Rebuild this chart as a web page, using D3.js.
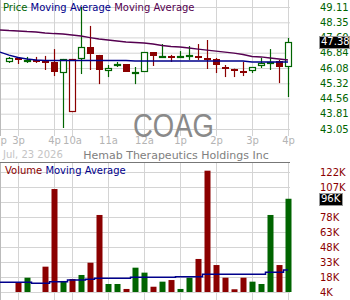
<!DOCTYPE html>
<html>
<head>
<meta charset="utf-8">
<script src="https://cdn.jsdelivr.net/npm/d3@7"></script>
<style>
body { margin: 0; background: #fff; }
text { font-family: "DejaVu Sans", Verdana, sans-serif; }
</style>
</head>
<body>
<script>
// 15 minute bars, index 1..32
var opens  = [46.38, 46.58, 46.45, 46.48, 46.44, 46.38, 45.83, 43.89, 46.53, 47.12, 46.73, 45.93, 46.27, 46.28, 45.88, 45.88,
              46.87, 46.66, 46.70, 46.66, 46.70, 46.70, 46.60, 46.53, 46.15, 46.05, 45.95, 45.93, 46.18, 46.33, 46.43, 46.13];
var highs  = [46.63, 46.58, 46.63, 46.63, 46.68, 47.02, 46.53, 46.53, 49.11, 48.17, 46.73, 46.23, 46.38, 46.28, 46.13, 46.87,
              46.87, 47.27, 46.73, 46.92, 47.17, 47.27, 47.47, 46.58, 46.23, 46.05, 46.38, 46.13, 46.58, 47.02, 46.48, 47.57];
var lows   = [46.33, 46.28, 46.33, 46.33, 45.98, 45.68, 43.10, 43.89, 45.78, 45.98, 45.28, 45.63, 46.13, 45.88, 45.28, 45.88,
              46.18, 46.66, 46.38, 46.63, 46.48, 46.48, 46.03, 45.83, 45.63, 45.63, 45.68, 45.83, 46.08, 45.98, 45.33, 44.64];
var closes = [46.58, 46.48, 46.49, 46.46, 46.42, 45.88, 46.53, 46.52, 47.12, 46.78, 45.98, 46.08, 46.29, 45.88, 45.90, 46.87,
              46.68, 46.68, 46.66, 46.68, 46.72, 46.68, 46.58, 46.23, 46.13, 46.03, 45.93, 46.13, 46.33, 46.38, 46.13, 47.38];
var volumes = [0, 13.2, 18.1, 0, 29.0, 105.6, 14.9, 16.8, 20.8, 32.9, 80.0, 11.9, 11.9, 7.0, 28.0, 23.1,
               9.2, 14.2, 15.8, 7.0, 18.1, 36.6, 123.7, 30.6, 18.1, 6.7, 18.1, 14.2, 11.9, 80.0, 30.6, 96.0];

// moving averages, index 0..32
var maFast = [46.87, 46.72, 46.60, 46.53, 46.48, 46.45, 46.45, 46.45, 46.45, 46.45, 46.45, 46.45, 46.45, 46.45, 46.45, 46.43, 46.43,
              46.43, 46.43, 46.43, 46.43, 46.43, 46.43, 46.43, 46.43, 46.43, 46.43, 46.43, 46.38, 46.38, 46.38, 46.38, 46.38];
var maSlow = [47.97, 47.94, 47.92, 47.89, 47.87, 47.82, 47.79, 47.77, 47.72, 47.67, 47.59, 47.52, 47.47, 47.42, 47.37, 47.35, 47.32,
              47.27, 47.20, 47.15, 47.12, 47.07, 47.02, 46.97, 46.92, 46.87, 46.82, 46.75, 46.65, 46.63, 46.58, 46.53, 46.48];
var volMa = [13.6, 13.6, 13.6, 13.6, 12.6, 12.6, 14.2, 14.2, 15.8, 15.8, 16.5, 17.5, 17.5, 17.5, 17.5, 18.5, 18.5,
             18.5, 18.5, 18.5, 19.1, 19.1, 19.1, 21.5, 21.5, 21.5, 21.5, 21.5, 21.5, 21.5, 23.4, 23.4, 25.7];

var timeIdx = [0, 2, 6, 8, 12, 16, 20, 24, 28, 32];
var timeLabels = ['2p', '3p', '4p', '10a', '11a', '12a', '1p', '2p', '3p', '4p'];
var priceTicks = [49.11, 48.35, 47.60, 46.84, 46.08, 45.32, 44.56, 43.81, 43.05];
var volTicks = [122.4, 107.6, 92.8, 78, 63.2, 48.4, 33.6, 18.8, 4];
var volLabels = ['122K', '107K', '92K', '78K', '63K', '48K', '33K', '18K', '4K'];

var w = 350;
var h = 300;
var green = '#006400';
var red = '#8b0000';

var svg = d3.select('body').append('svg')
  .attr('width', w)
  .attr('height', h);

var x = d3.scaleLinear().domain([0, 32]).range([0, 288]);
var y = d3.scaleLinear().domain([43.05, 49.11]).range([129, 7]);
var yv = d3.scaleLinear().domain([4, 122.4]).range([292, 172]);

function grid(g) {
  g.select('.domain').remove();
  g.selectAll('.tick line').attr('stroke', '#d4d4d4');
}

// grids
svg.append('g').call(d3.axisLeft(y).tickValues(priceTicks).tickSize(-290).tickFormat('')).call(grid);
svg.append('g').call(d3.axisTop(x).tickValues(timeIdx).tickSize(-136).tickFormat('')).call(grid);
svg.append('g').call(d3.axisLeft(yv).tickValues(volTicks).tickSize(-290).tickFormat('')).call(grid);
svg.append('g').attr('transform', 'translate(0,162)')
  .call(d3.axisTop(x).tickValues(timeIdx).tickSize(-138).tickFormat('')).call(grid);

svg.append('line').attr('x1', 0.5).attr('x2', 0.5).attr('y1', 0).attr('y2', 136).attr('stroke', '#bbb');
svg.append('line').attr('x1', 0.5).attr('x2', 0.5).attr('y1', 162).attr('y2', 300).attr('stroke', '#bbb');
svg.append('line').attr('x1', 0).attr('x2', 290).attr('y1', 162.5).attr('y2', 162.5).attr('stroke', '#777');

// time labels
var tx = svg.append('g').attr('transform', 'translate(0,136)')
  .call(d3.axisBottom(x).tickValues(timeIdx).tickSize(0).tickPadding(1)
    .tickFormat(function(d, i) { return timeLabels[i]; }));
tx.select('.domain').remove();
tx.selectAll('text').attr('fill', '#b4b4b4').style('font-size', '10px').style('font-family', '"DejaVu Sans", sans-serif');

svg.append('text').attr('x', 3).attr('y', 158).attr('fill', '#c4c4c4')
  .style('font-size', '10px').text('Jul, 23 2026');
svg.append('text').attr('x', 176).attr('y', 159).attr('text-anchor', 'middle').attr('fill', '#808080')
  .style('font-size', '11px').text('Hemab Therapeutics Holdings Inc');

// watermark
svg.append('text').attr('x', 133).attr('y', 137).attr('fill', '#8a8a8a')
  .attr('textLength', 81).attr('lengthAdjust', 'spacingAndGlyphs')
  .style('font-family', '"Liberation Sans", Arial, sans-serif').style('font-size', '33px').text('COAG');

function col(i) {
  return i == 0 || closes[i] >= closes[i - 1] ? green : red;
}

// candles
var candles = svg.append('g');
closes.forEach(function(c, i) {
  var cx = Math.round(x(i + 1));
  var o = opens[i];
  var top = Math.round(y(Math.max(o, c)));
  var bot = Math.round(y(Math.min(o, c)));
  candles.append('line')
    .attr('x1', cx + 0.5).attr('x2', cx + 0.5)
    .attr('y1', y(highs[i])).attr('y2', y(lows[i]))
    .attr('stroke', col(i)).attr('stroke-width', 1.2);
  if (c > o) {
    candles.append('rect')
      .attr('x', cx - 2.5).attr('y', top + 0.5)
      .attr('width', 6).attr('height', Math.max(bot - top - 1, 1))
      .attr('fill', '#fff').attr('stroke', col(i)).attr('stroke-width', 1.2);
  } else {
    candles.append('rect')
      .attr('x', cx - 3).attr('y', top)
      .attr('width', 7).attr('height', Math.max(bot - top, 2))
      .attr('fill', col(i));
  }
});

var line = d3.line().x(function(d, i) { return x(i); }).y(function(d) { return y(d); });
svg.append('path').attr('d', line(maSlow)).attr('fill', 'none').attr('stroke', '#550050').attr('stroke-width', 1.4);
svg.append('path').attr('d', line(maFast)).attr('fill', 'none').attr('stroke', '#00008b').attr('stroke-width', 1.4);

// volume bars
svg.append('g').selectAll('rect').data(volumes).join('rect')
  .attr('x', function(d, i) { return Math.round(x(i + 1)) - 2.5; })
  .attr('y', function(d) { return yv(Math.max(d, 4)); })
  .attr('width', 6)
  .attr('height', function(d) { return 292 - yv(Math.max(d, 4)); })
  .attr('fill', function(d, i) { return col(i); });

var vline = d3.line().curve(d3.curveStep).x(function(d, i) { return x(i); }).y(function(d) { return yv(d); });
svg.append('path').attr('d', vline(volMa)).attr('fill', 'none').attr('stroke', '#00008b').attr('stroke-width', 1.5);

// right axes
var py = svg.append('g').attr('transform', 'translate(320,0)')
  .call(d3.axisRight(y).tickValues(priceTicks).tickSize(0).tickPadding(0).tickFormat(d3.format('.2f')));
py.select('.domain').remove();
py.selectAll('text').attr('fill', green).style('font-size', '10px').style('font-family', '"DejaVu Sans", sans-serif');

var vy = svg.append('g').attr('transform', 'translate(320,0)')
  .call(d3.axisRight(yv).tickValues(volTicks).tickSize(0).tickPadding(0)
    .tickFormat(function(d, i) { return volLabels[i]; }));
vy.select('.domain').remove();
vy.selectAll('text').attr('fill', red).style('font-size', '10px').style('font-family', '"DejaVu Sans", sans-serif');

// last value boxes
var lastP = closes[closes.length - 1];
svg.append('rect').attr('x', 319.5).attr('y', Math.round(y(lastP)) - 5.5).attr('width', 30).attr('height', 12)
  .attr('fill', '#000').attr('stroke', '#999');
svg.append('text').attr('x', 321).attr('y', y(lastP)).attr('dy', '0.35em').attr('fill', '#fff')
  .style('font-size', '10px').text(d3.format('.2f')(lastP));

var lastV = volumes[volumes.length - 1];
svg.append('rect').attr('x', 319.5).attr('y', Math.round(yv(lastV)) - 5.5).attr('width', 23).attr('height', 12)
  .attr('fill', '#000').attr('stroke', '#999');
svg.append('text').attr('x', 321).attr('y', yv(lastV)).attr('dy', '0.35em').attr('fill', '#fff')
  .style('font-size', '10px').text(Math.round(lastV) + 'K');

// legends
var lg = svg.append('text').attr('x', 3).attr('y', 10.5).style('font-size', '10px');
lg.append('tspan').attr('fill', green).text('Price ');
lg.append('tspan').attr('fill', '#00008b').text('Moving Average ');
lg.append('tspan').attr('fill', '#550050').text('Moving Average');

var vl = svg.append('text').attr('x', 5).attr('y', 174).style('font-size', '10px');
vl.append('tspan').attr('fill', red).text('Volume ');
vl.append('tspan').attr('fill', '#00008b').text('Moving Average');
</script>
</body>
</html>
